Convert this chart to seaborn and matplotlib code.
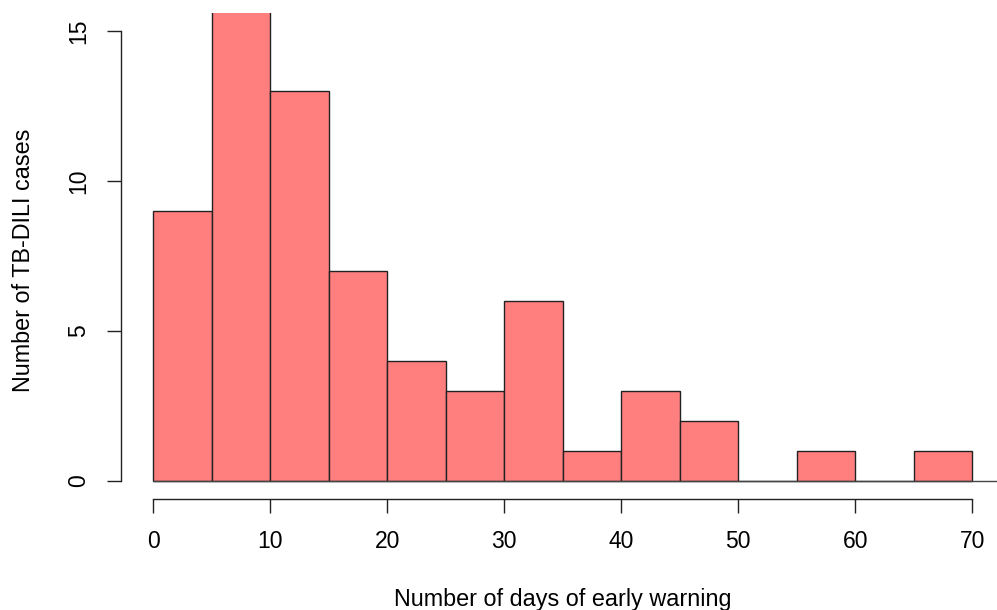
import numpy as np
import pandas as pd
import matplotlib
matplotlib.use("Agg")
import matplotlib.pyplot as plt
import seaborn as sns

# Histogram data (bin edges of width 5 days, counts per bin)
bin_edges = [0, 5, 10, 15, 20, 25, 30, 35, 40, 45, 50, 55, 60, 65, 70]
counts = [9, 16, 13, 7, 4, 3, 6, 1, 3, 2, 0, 1, 0, 1]
x_ticks = [0, 10, 20, 30, 40, 50, 60, 70]
y_ticks = [0, 5, 10, 15]
x_label = "Number of days of early warning"
y_label = "Number of TB-DILI cases"

sns.set_style("white")
plt.rcParams["font.family"] = ["Liberation Sans", "DejaVu Sans"]

W, H = 997, 610
fig = plt.figure(figsize=(W / 100, H / 100), dpi=100)
left_px, right_px, top_px, bottom_px = 120.5, 1005.0, 13.3, 499.0
ax = fig.add_axes([left_px / W, (H - bottom_px) / H,
                   (right_px - left_px) / W, (bottom_px - top_px) / H])

df = pd.DataFrame({"start": bin_edges[:-1], "count": counts})
df["mid"] = df["start"] + 2.5
sns.histplot(data=df, x="mid", weights="count", bins=bin_edges, ax=ax,
             color="#FF7F7F", alpha=1.0, edgecolor="#222222", linewidth=1.0)

# zero baseline extends right as in original
ax.hlines(0, bin_edges[0], 80, color="#444444", lw=1.0, zorder=3, clip_on=True)

ax.set_xlim(-2.8, 72.8)
ax.set_ylim(-0.6, 15.6)

for s in ["top", "right"]:
    ax.spines[s].set_visible(False)
ax.spines["left"].set_bounds(y_ticks[0], y_ticks[-1])
ax.spines["bottom"].set_bounds(x_ticks[0], x_ticks[-1])
for s in ["left", "bottom"]:
    ax.spines[s].set_color("#222222")
    ax.spines[s].set_linewidth(1.0)

ax.set_xticks(x_ticks)
ax.set_yticks(y_ticks)
ax.set_xticklabels([str(v) for v in x_ticks])
ax.set_yticklabels([str(v) for v in y_ticks], rotation=90, va="center")
ax.tick_params(axis="both", direction="out", length=10, width=1.0,
               color="#222222", labelsize=16.5, labelcolor="black")
ax.tick_params(axis="x", pad=12, bottom=True)
ax.tick_params(axis="y", pad=12, left=True)

ax.set_xlabel(x_label, fontsize=16.8, color="black")
ax.set_ylabel(y_label, fontsize=16.8, color="black")
ax.xaxis.set_label_coords((562.5 - left_px) / (right_px - left_px),
                          (bottom_px - 599.5) / (bottom_px - top_px))
ax.xaxis.label.set_va("center")
ax.yaxis.set_label_coords((24 - left_px) / (right_px - left_px),
                          (bottom_px - 260) / (bottom_px - top_px))
ax.yaxis.label.set_va("center")
ax.yaxis.label.set_ha("center")

fig.savefig("out.png", dpi=100)
